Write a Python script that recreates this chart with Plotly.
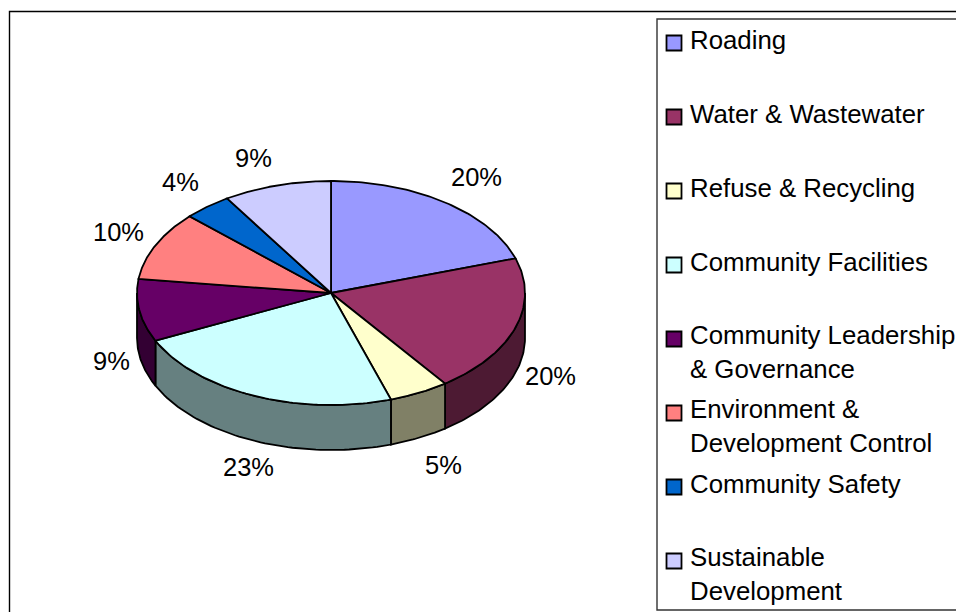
import numpy as np
import plotly.graph_objects as go

categories = ["Roading", "Water & Wastewater", "Refuse & Recycling", "Community Facilities",
              "Community Leadership<br>& Governance", "Environment &<br>Development Control",
              "Community Safety", "Sustainable<br>Development"]
values = [20, 20, 5, 23, 9, 10, 4, 9]
top_colors = ["#9999FF", "#993366", "#FFFFCC", "#CCFFFF", "#660066", "#FF8080", "#0066CC", "#CCCCFF"]
side_colors = ["#4D4D80", "#4D1A33", "#808066", "#668080", "#330033", "#804040", "#003366", "#666680"]

# geometry of the tilted pie, in page pixels
CX, CY, RX, RY, DEPTH = 331, 293, 194, 112, 45
FONT = "Liberation Sans, Arial, sans-serif"
FS = 25.5
LEG_FS = 25.8
LW = 1.8

def pt(deg):
    a = np.radians(deg)
    return CX + RX * np.sin(a), CY - RY * np.cos(a)

edges = np.concatenate([[0], np.cumsum(values)]) / sum(values) * 360
fig = go.Figure()

# outer walls (only the front half of the rim is visible)
for i in range(len(values)):
    a, b = max(edges[i], 90), min(edges[i + 1], 270)
    if a >= b:
        continue
    t = np.linspace(a, b, 60)
    x, y = pt(t)
    fig.add_trace(go.Scatter(
        x=np.r_[x, x[::-1], x[0]], y=np.r_[y, y[::-1] + DEPTH, y[0]],
        mode="lines", fill="toself", fillcolor=side_colors[i],
        line=dict(color="black", width=LW), hoverinfo="skip", showlegend=False))

# top faces
for i in range(len(values)):
    t = np.linspace(edges[i], edges[i + 1], 80)
    x, y = pt(t)
    fig.add_trace(go.Scatter(
        x=np.r_[CX, x, CX], y=np.r_[CY, y, CY],
        mode="lines", fill="toself", fillcolor=top_colors[i],
        line=dict(color="black", width=LW), name=categories[i].replace("<br>", " "),
        showlegend=False))

annotations = []
mids = (edges[:-1] + edges[1:]) / 2
label_shift = [(31, -25), (35, 48), (24, 72), (-5, 71), (-28, 50), (-37, -13), (-27, -25), (-23, -27)]
for v, m, (dx, dy) in zip(values, mids, label_shift):
    x, y = pt(m)
    annotations.append(dict(x=x + dx, y=y + dy, text=f"{v}%", showarrow=False,
                            xanchor="center", yanchor="middle",
                            font=dict(family=FONT, size=FS, color="black")))

# legend
LEG_X, LEG_Y0, LEG_STEP, SWATCH = 674, 43, 74, 15
leg_y = [LEG_Y0 + LEG_STEP * i for i in range(len(categories))]
fig.add_trace(go.Scatter(
    x=[LEG_X] * len(categories), y=leg_y, mode="markers", hoverinfo="skip", showlegend=False,
    marker=dict(symbol="square", size=SWATCH, color=top_colors, line=dict(color="black", width=LW))))
for name, y in zip(categories, leg_y):
    two = "<br>" in name
    annotations.append(dict(x=688, y=y - 3 + (16 if two else 0), text=name, showarrow=False,
                            xanchor="left", yanchor="middle", align="left",
                            font=dict(family=FONT, size=LEG_FS, color="black")))

shapes = [
    dict(type="rect", x0=9.5, y0=11.5, x1=970, y1=625, line=dict(color="black", width=1.4), layer="below"),
    dict(type="rect", x0=657, y0=19, x1=970, y1=610, fillcolor="white", line=dict(color="#333333", width=1.4), layer="below"),
]

fig.update_layout(
    width=956, height=612, margin=dict(l=0, r=0, t=0, b=0),
    paper_bgcolor="white", plot_bgcolor="white", showlegend=False,
    xaxis=dict(range=[0, 956], visible=False, fixedrange=True),
    yaxis=dict(range=[612, 0], visible=False, fixedrange=True),
    annotations=annotations, shapes=shapes,
)
fig.write_html("out.html", config=dict(displayModeBar=False),
               post_script="document.body.style.margin='0';document.body.style.overflow='hidden';")
